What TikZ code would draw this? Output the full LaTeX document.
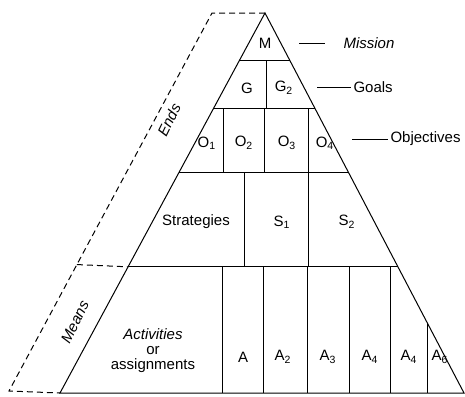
\documentclass[tikz,border=0pt]{standalone}
\usepackage{fontspec}
\setmainfont{Liberation Sans}
\usepackage{tikz}
\usetikzlibrary{arrows.meta, positioning, calc}

\begin{document}
\begin{tikzpicture}[
  x=0.5pt, y=-0.5pt,
  line width=0.5pt,
  cell/.style={inner sep=1pt, font=\fontsize{7.5}{7.5}\selectfont},
  tag/.style={inner sep=1pt, anchor=west, font=\fontsize{7.5}{9}\selectfont},
  side/.style={inner sep=0pt, rotate=64, font=\fontsize{7.5}{9}\selectfont\itshape},
  frame/.style={dashed, dash pattern=on 3pt off 2pt},
]
\useasboundingbox (0,0) rectangle (465,396);

% Pyramid corners
\coordinate (apex) at (265,13);
\coordinate (bl) at (60,393);
\coordinate (br) at (464,393);

% Row edges
\coordinate (m-l) at ($(apex)!0.1237!(bl)$);
\coordinate (m-r) at ($(apex)!0.1237!(br)$);
\coordinate (g-l) at ($(apex)!0.25!(bl)$);
\coordinate (g-r) at ($(apex)!0.25!(br)$);
\coordinate (o-l) at ($(apex)!0.421!(bl)$);
\coordinate (o-r) at ($(apex)!0.421!(br)$);
\coordinate (s-l) at ($(apex)!0.668!(bl)$);
\coordinate (s-r) at ($(apex)!0.668!(br)$);
\coordinate (a6) at ($(apex)!0.819!(br)$);

% Outline
\draw (apex) -- (bl) -- (br) -- cycle;
\draw (m-l) -- (m-r);
\draw (g-l) -- (g-r);
\draw (o-l) -- (o-r);
\draw (s-l) -- (s-r);

% Dashed bracket
\coordinate (d-top) at (212,13);
\coordinate (d-bot) at (9,391);
\coordinate (d-mid) at ($(d-top)!0.6655!(d-bot)$);
\draw[frame] (apex) -- (d-top) -- (d-bot) -- (bl);
\draw[frame] (d-mid) -- (s-l);

% Goals row
\draw (266,60) -- (266,108);

% Objectives row
\foreach \x in {223,264,308}
  \draw (\x,108) -- (\x,173);

% Strategies row
\foreach \x in {244,308}
  \draw (\x,173) -- (\x,267);

% Activities row
\foreach \x in {222,263,307,349,390}
  \draw (\x,267) -- (\x,393);
\draw (a6) -- (a6 |- br);

% Cell labels
\node[cell] (mis) at (265,43) {M};
\node[cell] (g1) at (247,88) {G};
\node[cell] (g2) at (284,88) {G\textsubscript{2}};
\node[cell] (o1) at (207,143) {O\textsubscript{1}};
\node[cell] (o2) at (244,143) {O\textsubscript{2}};
\node[cell] (o3) at (287,143) {O\textsubscript{3}};
\node[cell] (o4) at (325,143) {O\textsubscript{4}};
\node[cell] (strat) at (196,222) {Strategies};
\node[cell] (s1) at (282,222) {S\textsubscript{1}};
\node[cell] (s2) at (347,222) {S\textsubscript{2}};
\node[cell, align=center] (act) at (153,351) {\textit{Activities}\\or\\assignments};
\node[cell] (a1) at (243,357) {A};
\node[cell] (a2) at (283,357) {A\textsubscript{2}};
\node[cell] (a3) at (328,357) {A\textsubscript{3}};
\node[cell] (a4) at (370,357) {A\textsubscript{4}};
\node[cell] (a5) at (409,357) {A\textsubscript{4}};
\node[cell] (a6l) at (440,357) {A\textsubscript{6}};

% Side labels
\node[side] (ends) at (169,120) {Ends};
\node[side] (means) at (75,322) {Means};

% Level names
\node[tag] (mission) at (341,43) {\textit{Mission}};
\node[tag] (goals) at (351,87) {Goals};
\node[tag] (objs) at (388,139) {Objectives};
\coordinate (mis-l) at (299,43);
\coordinate (goal-l) at (317,87);
\coordinate (obj-l) at (352,139);
\draw (mis-l) -- ++(26,0);
\draw (goal-l) -- (goals.west);
\draw (obj-l) -- (objs.west);

\end{tikzpicture}
\end{document}
